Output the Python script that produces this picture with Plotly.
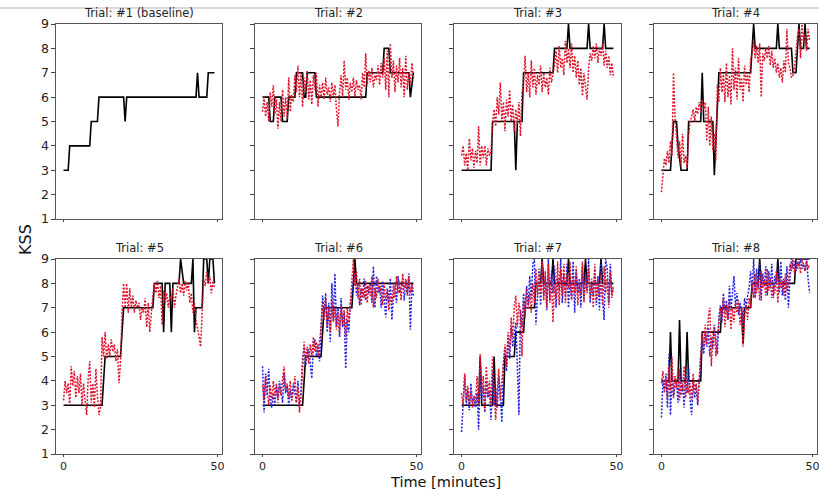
import numpy as np
import plotly.graph_objects as go

W, H = 819, 491

titles = ["Trial: #1 (baseline)", "Trial: #2", "Trial: #3", "Trial: #4",
          "Trial: #5", "Trial: #6", "Trial: #7", "Trial: #8"]
y_ticks = [1, 2, 3, 4, 5, 6, 7, 8, 9]
x_ticks = [0, 50]

# ---- reference KSS (black, solid): breakpoints (time [min], KSS) ----
black_t1 = [0, 1.5, 2, 8.5, 9, 11, 11.5, 19.5, 20, 20.5, 43, 43.5, 44, 46.5, 47, 49]
black_k1 = [3, 3, 4, 4, 5, 5, 6, 6, 5, 6, 6, 7, 6, 6, 7, 7]

black_t2 = [0, 2, 2.5, 3.5, 4, 6, 6.5, 8, 8.5, 10.5, 11, 13, 13.5, 14, 14.5, 17, 17.5, 33.5, 34, 36.5, 37, 39, 39.5, 41, 41.5, 47.5, 48, 49]
black_k2 = [6, 6, 5, 5, 6, 6, 5, 5, 6, 6, 7, 7, 6, 6, 7, 7, 6, 6, 7, 7, 7, 7, 8, 8, 7, 7, 6, 7]

black_t3 = [0, 9.5, 10, 17, 17.5, 18, 19.5, 20, 29.5, 30, 34, 34.5, 35, 40.5, 41, 41.5, 45.5, 46, 46.5, 49]
black_k3 = [3, 3, 5, 5, 3, 5, 5, 7, 7, 8, 8, 9, 8, 8, 9, 8, 8, 9, 8, 8]

black_t4 = [0, 3, 3.5, 4, 5, 5.5, 6.5, 7, 8.5, 9, 13, 13.5, 14, 14.5, 17, 17.5, 18.5, 19, 29.5, 30, 30.5, 31, 38, 38.5, 39, 43, 43.5, 44.5, 45, 45.5, 46, 47, 47.5, 48, 49]
black_k4 = [3, 3, 4, 5, 5, 4, 3, 3, 3, 5, 5, 7, 5, 5, 5, 2.8, 6, 7, 7, 8, 9, 8, 8, 9, 8, 8, 7, 7, 8, 9, 8, 8, 9, 8, 8]

black_t5 = [0, 12.5, 13.5, 18.5, 19.5, 29, 29.5, 32, 32.5, 33, 34.5, 35, 35.5, 37.5, 38, 38.5, 39, 41.5, 42, 42.5, 43, 45, 45.5, 46.5, 47, 47.5, 48.5, 49]
black_k5 = [3, 3, 5, 5, 7, 7, 8, 8, 6, 8, 8, 6, 8, 8, 9, 8.5, 8, 8, 9, 6, 7, 7, 9, 9, 8, 9, 9, 8]

black_t6 = [0, 13, 14, 19, 20, 29, 29.5, 30, 30.5, 49]
black_k6 = [3, 3, 5, 5, 7, 7, 8, 9, 8, 8]

black_t7 = [0, 5.5, 6, 6.5, 10, 10.5, 11, 13.5, 14, 17, 17.5, 20, 20.5, 23.5, 24, 25.5, 26, 26.5, 29, 29.5, 30, 34, 34.5, 35, 39.5, 40, 40.5, 44.5, 45, 45.5, 49]
black_k7 = [3, 3, 5, 3, 3, 5, 3, 3, 5, 5, 6, 6, 7, 7, 8, 8, 9, 8, 8, 9, 8, 8, 9, 8, 8, 9, 8, 8, 9, 8, 8]

black_t8 = [0, 2.5, 3, 3.5, 5.5, 6, 6.5, 8, 8.5, 9, 13, 13.5, 19.5, 20, 26.5, 27, 27.5, 29.5, 30, 32, 32.5, 33, 38, 38.5, 39, 44, 44.5, 49]
black_k8 = [4, 4, 6, 4, 4, 6.5, 4, 4, 6, 4, 4, 6, 6, 7, 7, 5.5, 7, 7, 8, 8, 9, 8, 8, 9, 8, 8, 9, 9]

# ---- predictions (red dotted), sampled every 0.5 min from 0 to 49 ----
red2 = [5.4, 6.0, 5.2, 5.8, 5.0, 6.2, 5.6, 6.5, 5.3, 5.9,
        4.7, 5.8, 5.0, 6.3, 5.2, 6.0, 5.1, 6.8, 5.4, 6.1,
        5.8, 6.9, 6.2, 7.3, 6.0, 7.0, 5.6, 6.8, 6.2, 7.1,
        5.9, 6.7, 5.7, 6.9, 6.3, 7.0, 5.6, 6.5, 6.0, 6.6,
        5.9, 6.8, 6.1, 6.4, 5.8, 6.6, 6.0, 6.5, 5.5, 4.8,
        6.2, 6.9, 6.0, 7.5, 6.3, 6.8, 5.9, 6.6, 6.2, 6.8,
        6.0, 6.7, 6.3, 6.5, 5.9, 7.0, 6.4, 7.8, 6.5, 7.1,
        6.6, 7.2, 6.4, 6.9, 6.7, 7.3, 6.5, 7.4, 6.8, 7.6,
        6.3, 7.9, 6.0, 8.2, 6.8, 7.5, 6.2, 7.3, 6.6, 7.6,
        6.4, 7.2, 6.0, 7.7, 6.3, 7.0, 6.5, 7.4, 6.8]

red3 = [3.6, 4.0, 3.2, 3.7, 3.0, 4.3, 3.4, 3.9, 3.1, 3.8,
        3.3, 4.8, 3.2, 4.0, 3.5, 4.0, 3.2, 3.9, 3.6, 3.8,
        4.9, 5.5, 4.8, 6.0, 5.3, 6.6, 5.0, 5.8, 4.6, 5.9,
        5.2, 6.3, 5.0, 5.7, 4.6, 5.5, 4.9, 5.8, 4.4, 6.2,
        6.5, 7.7, 6.2, 7.0, 6.0, 7.5, 6.4, 7.2, 6.1, 6.9,
        6.5, 7.3, 6.2, 7.0, 6.4, 6.8, 6.1, 7.2, 6.6, 7.0,
        7.3, 7.9, 7.0, 8.1, 7.2, 7.6, 6.9, 8.3, 7.4, 8.0,
        7.2, 8.2, 7.0, 7.7, 6.8, 7.5, 6.5, 7.2, 6.05, 7.0,
        6.3, 5.9, 7.2, 7.8, 7.5, 8.1, 7.6, 8.2, 7.4, 8.0,
        7.7, 8.2, 7.3, 7.9, 7.2, 7.7, 6.9, 7.4, 6.8]

red4 = [2.1, 2.8, 3.5, 3.2, 3.8, 3.3, 4.2, 3.6, 7.0, 5.2,
        4.5, 3.5, 4.2, 3.2, 4.5, 3.3, 3.6, 3.1, 4.4, 5.0,
        5.2, 5.5, 5.0, 5.6, 5.3, 5.8, 5.4, 5.9, 5.5, 5.8,
        4.2, 5.6, 4.0, 5.2, 3.8, 4.5, 3.4, 6.5, 5.8, 7.2,
        6.2, 7.0, 5.8, 7.4, 6.0, 6.9, 5.7, 8.0, 6.3, 7.2,
        5.9, 7.6, 6.3, 6.8, 5.8, 7.3, 6.5, 7.0, 6.2, 7.6,
        7.8, 8.3, 7.6, 8.1, 7.4, 8.2, 6.0, 7.8, 7.5, 8.0,
        7.6, 8.1, 7.3, 7.9, 7.2, 7.6, 7.0, 7.4, 6.8, 7.2,
        6.6, 7.5, 7.0, 8.8, 7.4, 7.2, 6.8, 6.9, 7.2, 7.8,
        8.5, 8.8, 7.6, 9.0, 8.2, 8.6, 7.9, 8.8, 8.3]

red5 = [3.2, 4.0, 3.5, 3.9, 3.0, 4.6, 3.8, 4.4, 3.3, 4.2,
        3.5, 4.3, 3.0, 3.9, 3.2, 2.6, 4.1, 4.8, 3.1, 3.9,
        2.9, 4.5, 3.4, 2.6, 2.9, 5.8, 5.0, 6.0, 4.9, 5.5,
        5.0, 5.7, 5.2, 5.5, 4.8, 5.3, 3.9, 4.8, 6.8, 8.0,
        7.0, 8.0, 6.8, 7.8, 7.0, 7.5, 6.8, 7.3, 7.0, 7.2,
        6.5, 7.0, 6.8, 7.4, 6.2, 7.2, 6.0, 6.8, 7.5, 8.0,
        7.6, 8.1, 7.4, 7.9, 6.3, 7.7, 7.2, 7.6, 7.0, 7.5,
        7.3, 7.8, 7.0, 7.5, 7.8, 8.2, 7.6, 8.0, 7.5, 8.1,
        7.7, 8.0, 7.2, 7.6, 6.8, 7.2, 6.5, 6.2, 5.8, 5.4,
        7.2, 8.2, 7.9, 8.5, 8.0, 8.3, 7.6, 8.1, 7.8]

red6 = [3.8, 3.2, 4.2, 3.5, 3.0, 3.8, 3.2, 4.0, 3.4, 3.9,
        3.1, 3.8, 3.4, 4.1, 4.6, 3.6, 3.9, 3.3, 4.0, 3.2,
        3.6, 4.2, 3.1, 3.7, 2.7, 3.4, 4.6, 5.6, 4.8, 5.4,
        4.7, 5.5, 5.0, 5.8, 5.2, 5.6, 5.0, 5.5, 6.2, 7.2,
        6.5, 7.4, 6.2, 7.0, 6.0, 7.3, 6.4, 7.0, 6.1, 6.8,
        5.9, 7.1, 6.3, 6.9, 5.8, 7.0, 6.4, 7.2, 8.2, 9.0,
        7.9, 8.5, 7.4, 8.2, 7.1, 7.8, 7.4, 8.1, 7.2, 7.9,
        7.5, 8.3, 7.0, 7.8, 7.4, 8.2, 7.6, 7.9, 7.1, 8.0,
        7.3, 7.7, 6.9, 7.5, 7.2, 8.0, 7.4, 8.3, 7.6, 8.1,
        7.3, 8.4, 7.8, 8.2, 7.5, 8.3, 7.6, 8.0, 7.7]

red7 = [3.5, 3.0, 4.3, 3.2, 3.8, 3.0, 3.6, 2.9, 3.4, 3.1,
        4.2, 3.0, 5.1, 3.5, 4.2, 2.8, 4.6, 3.4, 4.0, 3.0,
        5.0, 3.8, 2.4, 3.6, 4.5, 3.2, 4.0, 4.8, 5.5, 4.6,
        6.0, 5.2, 6.6, 5.8, 7.0, 7.5, 6.2, 7.2, 6.8, 5.0,
        7.3, 6.6, 7.8, 7.0, 7.6, 6.8, 8.0, 7.2, 8.6, 7.5,
        8.4, 7.6, 8.9, 7.3, 8.5, 7.0, 8.8, 7.2, 8.2, 6.4,
        8.0, 7.4, 8.9, 7.1, 8.6, 7.5, 8.8, 7.2, 8.4, 7.8,
        8.9, 7.3, 8.3, 7.6, 8.7, 7.1, 8.0, 7.5, 8.9, 7.2,
        8.3, 7.6, 8.6, 7.4, 8.2, 7.0, 8.8, 7.3, 8.1, 7.5,
        8.4, 7.1, 8.7, 7.6, 8.2, 7.0, 8.5, 7.4, 7.9]

red8 = [3.9, 4.4, 3.5, 4.1, 3.3, 4.6, 3.6, 5.0, 3.4, 4.2,
        3.7, 4.5, 3.2, 4.0, 3.6, 4.6, 3.3, 4.1, 3.5, 3.9,
        3.2, 4.3, 3.6, 3.9, 3.1, 4.0, 5.2, 6.0, 5.4, 6.3,
        5.5, 6.6, 7.0, 4.6, 5.8, 6.2, 5.0, 5.9, 6.4, 7.0,
        6.6, 7.4, 6.2, 7.1, 6.5, 7.3, 6.1, 7.0, 6.4, 7.2,
        6.8, 7.3, 6.3, 7.0, 5.4, 6.6, 7.1, 6.5, 7.4, 7.0,
        8.0, 7.4, 8.4, 7.6, 8.2, 7.3, 8.5, 7.8, 8.1, 7.5,
        8.6, 7.7, 8.2, 7.4, 8.0, 7.6, 8.5, 7.2, 8.3, 7.8,
        8.1, 7.5, 8.4, 7.7, 8.0, 8.8, 8.5, 9.0, 8.4, 8.8,
        8.6, 8.9, 8.4, 9.0, 8.7, 8.5, 8.9, 8.6, 8.8]

# ---- second predictions (blue dotted), trials 6-8 ----
blue6 = [4.6, 2.7, 4.3, 3.4, 4.5, 3.2, 2.9, 3.5, 3.0, 3.8,
         3.3, 4.0, 3.6, 3.1, 4.3, 3.5, 3.8, 3.0, 3.6, 3.2,
         3.9, 3.4, 3.1, 4.0, 3.0, 3.6, 4.9, 5.4, 4.6, 5.1,
         5.3, 4.7, 4.1, 5.4, 5.7, 5.0, 5.5, 4.8, 6.5, 7.5,
         6.8, 7.6, 6.0, 7.2, 5.6, 8.0, 6.5, 8.4, 6.2, 7.0,
         5.8, 7.4, 6.2, 6.8, 4.5, 6.5, 6.0, 7.2, 7.5, 8.1,
         8.4, 7.5, 8.0, 7.1, 7.8, 7.4, 8.2, 7.3, 7.9, 7.6,
         8.0, 7.2, 8.7, 7.0, 8.3, 7.6, 7.9, 7.0, 8.1, 7.4,
         6.6, 7.8, 7.2, 8.2, 6.5, 7.5, 7.9, 7.2, 8.3, 7.6,
         7.8, 8.2, 7.3, 8.1, 7.6, 8.4, 6.1, 7.9, 7.5]

blue7 = [1.9, 3.3, 4.2, 3.0, 3.6, 2.8, 3.9, 3.1, 3.3, 2.9,
         3.5, 2.0, 4.5, 3.2, 3.8, 2.7, 4.0, 3.3, 3.6, 2.4,
         4.4, 3.0, 3.7, 2.9, 4.2, 3.4, 2.3, 4.7, 5.3, 4.4,
         5.8, 4.9, 6.2, 5.4, 5.9, 6.4, 4.6, 2.6, 6.9, 6.2,
         7.6, 6.8, 7.9, 7.1, 8.3, 7.4, 8.8, 9.0, 6.3, 7.8,
         8.6, 7.1, 8.9, 7.5, 8.3, 6.9, 9.0, 7.3, 8.5, 7.6,
         8.7, 7.0, 8.2, 7.7, 9.0, 7.2, 8.4, 7.5, 8.8, 7.0,
         8.1, 7.4, 8.9, 6.8, 8.5, 7.6, 8.2, 7.0, 8.7, 7.3,
         8.4, 7.7, 9.0, 7.2, 8.0, 7.5, 8.6, 7.1, 8.3, 6.9,
         8.9, 7.4, 6.5, 9.0, 8.6, 7.2, 8.8, 7.6, 7.8]

blue8 = [2.5, 4.0, 3.6, 4.3, 2.9, 5.1, 2.6, 4.2, 3.3, 3.8,
         4.0, 3.1, 4.5, 3.4, 3.9, 2.9, 4.3, 3.5, 4.6, 3.2,
         2.6, 4.0, 3.3, 3.8, 3.0, 4.2, 5.0, 5.6, 5.1, 6.0,
         5.4, 6.2, 5.0, 5.8, 5.3, 6.3, 5.6, 5.1, 6.6, 7.1,
         6.4, 7.6, 6.8, 7.3, 6.5, 7.9, 6.9, 7.5, 8.3, 7.0,
         7.6, 6.7, 7.2, 6.9, 6.3, 7.4, 7.0, 7.5, 7.8, 8.5,
         7.6, 9.0, 7.4, 8.6, 7.8, 8.9, 7.3, 8.4, 7.9, 8.7,
         7.5, 8.5, 7.8, 8.8, 7.4, 8.3, 8.0, 8.6, 7.6, 8.9,
         7.5, 8.2, 7.3, 8.7, 7.0, 8.2, 9.0, 8.6, 8.9, 8.5,
         8.9, 8.7, 9.0, 8.6, 8.8, 8.5, 9.0, 8.2, 7.6]

black_t = [black_t1, black_t2, black_t3, black_t4, black_t5, black_t6, black_t7, black_t8]
black_k = [black_k1, black_k2, black_k3, black_k4, black_k5, black_k6, black_k7, black_k8]
reds = [None, red2, red3, red4, red5, red6, red7, red8]
blues = [None, None, None, None, None, blue6, blue7, blue8]

# ---- layout geometry (pixels) ----
col_px = [(56, 222), (255, 421), (454, 621), (654, 817)]
row_px = [(24, 219), (259, 454)]

RED = "rgb(222,20,45)"
BLUE = "rgb(35,35,225)"
FONT = "DejaVu Sans"

fig = go.Figure()
layout = {}
annotations = []
for i in range(8):
    r, c = divmod(i, 4)
    sfx = "" if i == 0 else str(i + 1)
    xa, ya = "x" + sfx, "y" + sfx
    fig.add_trace(go.Scatter(x=black_t[i], y=black_k[i], mode="lines",
                             line=dict(color="black", width=1.6),
                             xaxis=xa, yaxis=ya, showlegend=False, hoverinfo="skip"))
    if blues[i] is not None:
        t = np.linspace(0, 49, len(blues[i]))
        fig.add_trace(go.Scatter(x=t, y=blues[i], mode="lines",
                                 line=dict(color=BLUE, width=1.5, dash="2px,1.5px"),
                                 xaxis=xa, yaxis=ya, showlegend=False, hoverinfo="skip"))
    if reds[i] is not None:
        t = np.linspace(0, 49, len(reds[i]))
        fig.add_trace(go.Scatter(x=t, y=reds[i], mode="lines",
                                 line=dict(color=RED, width=1.5, dash="2px,1.5px"),
                                 xaxis=xa, yaxis=ya, showlegend=False, hoverinfo="skip"))
    x0, x1 = col_px[c]
    y0, y1 = row_px[r]
    layout["xaxis" + sfx] = dict(
        domain=[x0 / W, x1 / W], range=[-2.45, 51.45], anchor=ya, automargin=False,
        tickvals=x_ticks, ticktext=[str(v) for v in x_ticks],
        showticklabels=(r == 1), ticks="outside", ticklen=2, tickcolor="#444",
        ticklabeloverflow="allow",
        showline=True, mirror=True, linecolor="#555", linewidth=1.2,
        showgrid=False, zeroline=False,
        tickfont=dict(family=FONT, size=11, color="#222"))
    layout["yaxis" + sfx] = dict(
        domain=[1 - y1 / H, 1 - y0 / H], range=[1, 9], anchor=xa, automargin=False,
        tickvals=y_ticks, showticklabels=(c == 0), ticks="outside", ticklen=3.5,
        tickcolor="#444", showline=True, mirror=True, linecolor="#555", linewidth=1.2,
        showgrid=False, zeroline=False,
        tickfont=dict(family=FONT, size=12.5, color="#222"))
    annotations.append(dict(text=titles[i], xref="paper", yref="paper",
                            x=(x0 + x1) / 2 / W, y=1 - (y0 - 2) / H,
                            xanchor="center", yanchor="bottom", showarrow=False,
                            font=dict(family=FONT, size=11.5, color="#222")))

annotations.append(dict(text="KSS", xref="paper", yref="paper", x=25 / W, y=1 - 240 / H,
                        xanchor="center", yanchor="middle", textangle=-90, showarrow=False,
                        font=dict(family=FONT, size=16, color="#111")))
annotations.append(dict(text="Time [minutes]", xref="paper", yref="paper", x=446 / W,
                        y=0, xanchor="center", yanchor="bottom", showarrow=False,
                        borderpad=0,
                        font=dict(family=FONT, size=14.5, color="#111")))

fig.update_layout(width=W, height=H, margin=dict(l=0, r=0, t=0, b=0, autoexpand=False),
                  paper_bgcolor="white", plot_bgcolor="white",
                  annotations=annotations,
                  shapes=[dict(type="line", xref="paper", yref="paper", x0=0, x1=1,
                               y0=1 - 8 / H, y1=1 - 8 / H,
                               line=dict(color="#cfcfcf", width=1.5))],
                  **layout)

fig.write_html("out.html", config={"displayModeBar": False},
               post_script="document.body.style.margin='0';document.body.style.overflow='hidden';")
